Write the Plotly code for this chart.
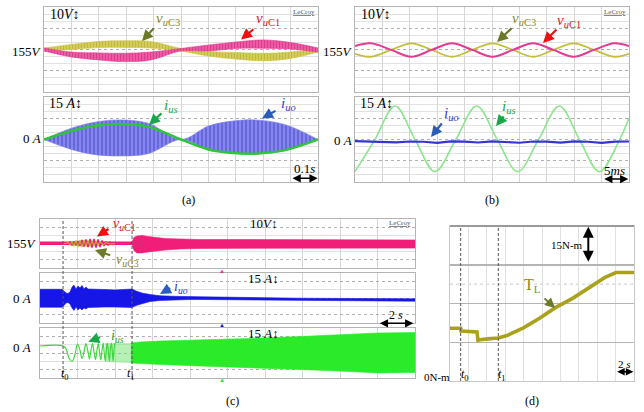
import plotly.graph_objects as go

W, H = 644, 412
SERIF = "Liberation Serif, Times New Roman, serif"

# ---------------- data ----------------
# (a) 0.1 s/div
a_t = [0, 0.1, 0.2, 0.29, 0.39, 0.5, 0.6, 0.7, 0.8, 0.9, 1.0]
a_vuc3_hi = [155.7, 157.4, 158.8, 159.1, 158.8, 155.5, 154.1, 153.6, 153.2, 153.8, 155.2]
a_vuc3_lo = [154.3, 155.0, 155.9, 156.0, 155.7, 154.3, 151.9, 150.5, 149.7, 150.8, 153.8]
a_vuc1_hi = [155.7, 153.8, 153.4, 153.2, 153.8, 155.5, 157.1, 158.5, 159.5, 158.3, 155.7]
a_vuc1_lo = [154.3, 151.5, 150.1, 149.3, 150.1, 154.3, 154.3, 155.5, 155.6, 155.2, 153.8]
a_ti = [0, 0.1, 0.18, 0.27, 0.38, 0.5, 0.6, 0.68, 0.77, 0.88, 1.0]
a_iuo_hi = [0, 8, 12, 13.8, 11.5, 0, 9.5, 12.8, 13.8, 10.5, 0]
a_iuo_lo = [0, -7, -10.5, -11.6, -10, 0, -7, -9.5, -10.2, -7.8, 0]
a_ius = [0, 6, 9.5, 10.9, 9, 0, -7, -9.3, -10, -7.5, 0]

# (b) 5 ms/div
b_tv = [0, 2.9, 6.6, 10.3, 14.0, 17.7, 21.4, 25.1, 28.8, 32.5, 36.2, 39.9, 43.6, 47.3, 50]
b_vuc1 = [156.6, 157.9, 154.8, 151.6, 154.8, 157.9, 154.8, 151.6, 154.8, 157.9, 154.8, 151.6, 154.8, 157.9, 156.6]
b_vuc3 = [153.0, 151.6, 154.8, 157.9, 154.8, 151.6, 154.8, 157.9, 154.8, 151.6, 154.8, 157.9, 154.8, 151.6, 153.0]
b_ti = [0, 3.65, 7.3, 10.95, 14.6, 18.4, 22.2, 25.95, 29.7, 33.5, 37.3, 40.95, 44.6, 48.3, 50]
b_ius = [-22.7, 0, 23.6, 0, -22.7, 0, 23.6, 0, -22.7, 0, 23.6, 0, -22.7, 0, 15.2]
b_tu = [0, 2.5, 5, 7.5, 10, 12.5, 15, 17.5, 20, 22.5, 25, 27.5, 30, 32.5, 35, 37.5, 40, 42.5, 45, 47.5, 50]
b_iuo = [-1.2, -1.5, -1.3, -2.0, -1.4, -1.6, -2.4, -1.3, -1.5, -2.1, -1.3, -1.6, -2.3, -1.4, -1.5, -2.2, -1.3, -1.6, -2.4, -1.5, -1.4]

# (c) 2 s/div
c_t0, c_t1 = 1.23, 4.91
c_pre_t = [0, 4.91]
c_pre_v = [155.3, 155.3]
c_zz_t = [1.23, 1.39, 1.49, 1.60, 1.71, 1.81, 1.92, 2.03, 2.13, 2.24, 2.35, 2.45, 2.56, 2.67, 2.77,
          2.88, 2.99, 3.09, 3.20, 3.31, 3.41, 3.52, 3.63, 3.73, 3.89, 4.05, 4.27, 4.53, 4.91]
c_vuc1_zz = [155, 155.6, 153.8, 156.8, 153.2, 157.4, 152.6, 158.1, 151.9, 159.3, 151.3, 159.9, 150.7, 160.5, 150.1,
             160.5, 150.1, 159.9, 150.7, 158.7, 151.9, 157.4, 152.6, 156.8, 153.8, 156.2, 154.4, 155.6, 155]
c_zz3_t = [1.23, 1.39, 1.49, 1.60, 1.71, 1.81, 1.92, 2.03, 2.13, 2.24, 2.35, 2.45, 2.56, 2.67, 2.77,
           2.88, 2.99, 3.09, 3.20, 3.36, 3.52, 3.73, 4.0]
c_vuc3_zz = [155, 155, 156.2, 153.2, 157.4, 151.9, 158.7, 150.7, 159.3, 150.7, 159.3, 151.3, 158.7, 151.3, 158.7,
             151.9, 158.1, 152.6, 157.4, 153.2, 156.2, 154.4, 155]
c_band_t = [4.91, 5.01, 5.17, 5.44, 5.76, 6.13, 6.67, 7.47, 8.53, 11.2, 13.87, 16.53, 20]
c_vuc1_hi = [156.5, 162.3, 164.2, 164.8, 163.6, 162.3, 161.1, 160.5, 159.9, 159.9, 159.7, 159.4, 159.3]
c_vuc1_lo = [153.5, 146.4, 143.4, 143.4, 144.6, 145.8, 147.0, 148.3, 148.9, 149.1, 149.1, 149.2, 149.4]

c_iuo_t = [0, 1.17, 1.28, 1.39, 1.49, 1.60, 1.71, 1.81, 1.92, 2.03, 2.13, 2.24, 2.35, 2.45, 2.56,
           2.93, 3.47, 4.00, 4.53, 4.91, 5.12, 5.44, 5.87, 6.40, 7.09, 8.00, 8.53, 13.87, 20]
c_iuo_hi = [15.7, 15.7, 12.6, 9.0, 8.1, 10.8, 19.8, 23.4, 16.2, 21.6, 18.0, 22.5, 16.2, 19.8, 16.2,
            15.3, 15.3, 14.4, 15.3, 16.2, 12.6, 9.0, 6.3, 4.1, 3.1, 2.3, 2.2, -0.4, -1.4]
c_iuo_lo = [-16.7, -16.7, -13.5, -9.0, -8.1, -10.8, -18.0, -22.5, -16.2, -21.6, -18.0, -21.6, -18.0, -19.8, -17.1,
            -16.2, -16.2, -16.2, -16.2, -17.1, -13.5, -9.9, -6.3, -4.5, -3.2, -2.7, -2.7, -4.7, -5.8]

c_ius_t = [0, 1.23, 1.39, 1.55, 1.71, 1.87, 2.00, 2.13, 2.24, 2.35, 2.45, 2.56, 2.64, 2.72, 2.80, 2.88, 2.96, 3.04,
           3.11, 3.18, 3.24, 3.31, 3.37, 3.42, 3.48, 3.54, 3.59, 3.65, 3.70, 3.75, 3.81, 3.86, 3.90, 3.95, 4.00]
c_ius_zz = [0, 0, -5.4, -21.6, -27.9, -14.4, 3.6, -7.2, -22.5, -10.8, 4.5, -10.8, -23.4, -7.2, 4.5, -10.8, -24.3, -7.2,
            4.5, -12.6, -25.2, -7.2, 5.4, -10.8, -27.0, -7.2, 5.4, -10.8, -27.0, -7.2, 5.4, -12.6, -27.0, -5.4, 5.4]
c_dense_t = [3.47, 4.91]
c_dense_hi = [5.4, 5.4]
c_dense_lo = [-28.8, -30.6]
c_ius_band_t = [4.85, 5.33, 6.40, 8.53, 11.2, 13.87, 16.53, 18.03, 20]
c_ius_hi = [5.4, 7.2, 9.0, 10.8, 13.5, 17.1, 20.7, 23.4, 24.3]
c_ius_lo = [-30.6, -31.5, -33.3, -36.0, -38.7, -42.3, -45.9, -48.6, -47.7]
c_trig = 9.69

# (d) load torque, 2 s/div, 15 N-m/div
d_t0, d_t1 = 1.16, 5.25
d_t = [0, 1.16, 1.2, 2.93, 3.04, 3.26, 4.13, 5.22, 6.2, 7.93, 9.78, 11.41, 13.37, 15.22, 16.85, 18.04, 20]
d_TL = [20.4, 20.4, 19.3, 19.0, 15.8, 16.0, 16.3, 16.65, 17.6, 20.5, 24.4, 28.3, 32.1, 36.4, 40.1, 42.0, 42.0]

# ---------------- colours ----------------
PINK, OLIVE, BLUE, GREEN = "#e8358f", "#c9c23c", "#1616e6", "#2aea2a"

fig = go.Figure()


def band(xs, lo, hi, color, n, shape="spline", pattern=None, lw=0.6):
    xa, ya = ("x", "y") if n == 1 else (f"x{n}", f"y{n}")
    fig.add_trace(go.Scatter(x=xs, y=lo, mode="lines", line=dict(width=lw, color=color, shape=shape),
                             xaxis=xa, yaxis=ya, hoverinfo="skip"))
    kw = dict(fillpattern=pattern) if pattern else {}
    fig.add_trace(go.Scatter(x=xs, y=hi, mode="lines", line=dict(width=lw, color=color, shape=shape),
                             fill="tonexty", fillcolor=color, xaxis=xa, yaxis=ya, hoverinfo="skip", **kw))


def line(xs, ys, color, n, width=2, shape="linear"):
    xa, ya = ("x", "y") if n == 1 else (f"x{n}", f"y{n}")
    fig.add_trace(go.Scatter(x=xs, y=ys, mode="lines", line=dict(width=width, color=color, shape=shape),
                             xaxis=xa, yaxis=ya, hoverinfo="skip"))


# (a)
band(a_t, a_vuc3_lo, a_vuc3_hi, OLIVE, 1,
     pattern=dict(shape="|", fgcolor="#a9a224", bgcolor="#d6cf5c", size=3, solidity=0.4))
band(a_t, a_vuc1_lo, a_vuc1_hi, PINK, 1,
     pattern=dict(shape="|", fgcolor="#c71f72", bgcolor="#ef5ca6", size=3, solidity=0.4))
band(a_ti, a_iuo_lo, a_iuo_hi, "#7b7cf0", 2,
     pattern=dict(shape="|", fgcolor="#2e2ea6", bgcolor="#8586f2", size=4, solidity=0.35))
line(a_ti, a_ius, "#2fc43a", 2, width=2.5, shape="spline")
# (b)
line(b_tv, b_vuc3, "#c4bd3e", 3, width=1.8, shape="spline")
line(b_tv, b_vuc1, "#e33a93", 3, width=2.0, shape="spline")
line(b_ti, b_ius, "#8fe58f", 4, width=1.6, shape="spline")
line(b_tu, b_iuo, "#3434d2", 4, width=2.2)
# (c) top
line(c_pre_t, c_pre_v, "#f01e78", 5, width=3.5)
line(c_zz_t, c_vuc1_zz, "#f01e78", 5, width=1.5)
line(c_zz3_t, c_vuc3_zz, "#b9b230", 5, width=1.1)
band(c_band_t, c_vuc1_lo, c_vuc1_hi, "#f01e78", 5, shape="linear")
# (c) middle
band(c_iuo_t, c_iuo_lo, c_iuo_hi, BLUE, 6, shape="linear")
# (c) bottom
band(c_dense_t, c_dense_lo, c_dense_hi, "rgba(120,230,120,0.55)", 7, shape="linear", lw=0)
line(c_ius_t, c_ius_zz, "#3ed83e", 7, width=1.2, shape="spline")
band(c_ius_band_t, c_ius_lo, c_ius_hi, GREEN, 7, shape="linear")
# (d)
line(d_t, d_TL, "#aaa21c", 8, width=3.6)


# ---------------- axes ----------------
def dom(x0, x1, y0, y1):
    return [x0 / W, x1 / W], [1 - y1 / H, 1 - y0 / H]


base = dict(zeroline=False, showticklabels=False, ticks="", showline=True, linecolor="#b4b4b4",
            linewidth=1, mirror=True, fixedrange=True)

panels = [
    # n, px box, xrange, xdtick, yrange, y major tick0/dtick (dotted), minor dtick
    (1, (44, 318, 7, 92), [0, 1.0], 0.1, [135, 175], 135, 10, 10 / 3),
    (2, (44, 318, 97, 182), [0, 1.0], 0.1, [-30, 30], -30, 15, 5),
    (3, (355, 629, 7, 92), [0, 50], 5, [135, 175], 135, 10, 10 / 3),
    (4, (355, 629, 97, 182), [0, 50], 5, [-30, 30], -30, 15, 5),
    (5, (40, 415, 219, 268), [0, 20], 2, [125, 185], 135, 20, 10),
    (6, (40, 415, 273, 323), [0, 20], 2, [-45, 45], -30, 30, 15),
    (7, (40, 415, 328, 378), [0, 20], 2, [-57.6, 32.4], -42.6, 30, 15),
]
lay = {}
for n, (x0, x1, y0, y1), xr, xdt, yr, yt0, ydt, ymin in panels:
    xd, yd = dom(x0, x1, y0, y1)
    sx = "" if n == 1 else str(n)
    lay[f"xaxis{sx}"] = dict(base, domain=xd, range=xr, dtick=xdt, tick0=0, showgrid=True,
                             gridcolor="#d6d6d6", gridwidth=1, anchor=f"y{sx}")
    lay[f"yaxis{sx}"] = dict(base, domain=yd, range=yr, tick0=yt0, dtick=ydt, showgrid=True,
                             gridcolor="#b0b0b0", griddash="dot", gridwidth=1, anchor=f"x{sx}",
                             minor=dict(showgrid=True, tick0=yr[0], dtick=ymin, gridcolor="#e2e2e2",
                                        griddash="solid", gridwidth=1))
xd, yd = dom(450, 634, 226, 381)
lay["xaxis8"] = dict(base, domain=xd, range=[0, 20], dtick=2, tick0=0, showgrid=True,
                     gridcolor="#e0e0e0", linecolor="#c8c8c8", anchor="y8")
lay["yaxis8"] = dict(base, domain=yd, range=[0, 60], dtick=15, tick0=0, showgrid=True,
                     gridcolor="#b4b4b4", gridwidth=1.5, linecolor="#c8c8c8", anchor="x8")


# ---------------- annotations ----------------
def txt(s, px, py, size=13, color="black", xanchor="center", yanchor="middle"):
    return dict(text=s, x=px / W, y=1 - py / H, xref="paper", yref="paper", showarrow=False,
                font=dict(family=SERIF, size=size, color=color), xanchor=xanchor, yanchor=yanchor)


def arrow(tx, ty, hx, hy, color, width=2.2, size=1.0, head=2, both=False):
    d = dict(text="", x=hx / W, y=1 - hy / H, xref="paper", yref="paper", ax=tx - hx, ay=ty - hy,
             axref="pixel", ayref="pixel", showarrow=True, arrowhead=head, arrowsize=size,
             arrowwidth=width, arrowcolor=color)
    if both:
        d.update(arrowside="end+start", startarrowhead=head, startarrowsize=size)
    return d


C3 = "<i>v</i><sub><i>u</i>C3</sub>"
C1 = "<i>v</i><sub><i>u</i>C1</sub>"
IUS = "<i>i</i><sub><i>us</i></sub>"
IUO = "<i>i</i><sub><i>uo</i></sub>"
TV = "10<i>V</i><b>↕</b>"
TA = "15 <i>A</i><b>↕</b>"
OLV_T, RED_T, GRN_T, BLU_T = "#8e8a1e", "#e0161a", "#1fa63c", "#3a3ccc"
OLV_A, RED_A, GRN_A, BLU_A = "#6b7a28", "#ee1111", "#18a84a", "#2a5db8"

ann = [
    # (a)
    txt(TV, 48, 15, 14, xanchor="left"), txt("155<i>V</i>", 44, 52, 13, xanchor="right"),
    txt("<u>LeCroy</u>", 317, 11.5, 7, "#555", xanchor="right"),
    txt(TA, 47, 103, 14, xanchor="left"), txt("0 <i>A</i>", 43, 139, 13, xanchor="right"),
    txt("0.1<i>s</i>", 304, 169, 13),
    txt(C3, 168, 19, 15, OLV_T), txt(C1, 268, 19, 15, RED_T),
    txt(IUS, 171, 106, 15, GRN_T), txt(IUO, 288, 104, 15, BLU_T),
    arrow(155, 27, 142, 41, OLV_A), arrow(255, 28, 241, 39.5, RED_A),
    arrow(163, 112, 149, 125, GRN_A), arrow(277, 110, 262, 118.5, BLU_A),
    arrow(291, 178.3, 317.7, 178.3, "black", width=1.5, size=1.1, both=True),
    txt("(a)", 188, 200, 12),
    # (b)
    txt(TV, 359, 15, 14, xanchor="left"), txt("155<i>V</i>", 355, 52, 13, xanchor="right"),
    txt("<u>LeCroy</u>", 628, 11.5, 7, "#555", xanchor="right"),
    txt(TA, 358, 103, 14, xanchor="left"), txt("0 <i>A</i>", 354, 140, 13, xanchor="right"),
    txt("5<i>ms</i>", 614, 170, 13),
    txt(C3, 524, 19, 15, OLV_T), txt(C1, 569, 21, 15, RED_T),
    txt(IUO, 451, 114, 15, BLU_T), txt(IUS, 509, 107, 15, GRN_T),
    arrow(513, 27, 497, 42, OLV_A), arrow(558, 28, 543, 43, RED_A),
    arrow(443, 122, 431, 137, BLU_A), arrow(505, 115, 496, 126, GRN_A),
    arrow(602.7, 179, 628.3, 179, "black", width=1.5, size=1.1, both=True),
    txt("(b)", 492, 200, 12),
    # (c)
    txt(TV, 263, 223, 13), txt(TA, 263, 278, 13), txt(TA, 263, 333, 13),
    txt("<u>LeCroy</u>", 413, 223, 7, "#555", xanchor="right"),
    txt("155<i>V</i>", 39, 244, 13, xanchor="right"),
    txt("0 <i>A</i>", 33, 298, 13, xanchor="right"), txt("0 <i>A</i>", 33, 347, 13, xanchor="right"),
    txt("2 <i>s</i>", 396, 315, 12),
    arrow(378.3, 323.3, 413.3, 323.3, "black", width=1.5, size=1.1, both=True),
    txt("<i>t</i><sub>0</sub>", 65, 374, 12), txt("<i>t</i><sub>1</sub>", 131, 374, 12),
    txt(C1, 124, 224, 14, RED_T), txt(C3, 127, 260, 14, OLV_T),
    txt(IUO, 181, 287, 14, BLU_T), txt(IUS, 117, 336, 14, GRN_T),
    arrow(110, 228, 97, 236.5, RED_A), arrow(111.7, 255.7, 95, 250, OLV_A),
    arrow(171.7, 287.3, 160, 294, BLU_A), arrow(101.7, 336.7, 88.3, 341.7, GRN_A),
    txt("▲", 221.7, 270.7, 6, PINK), txt("▲", 221.7, 325, 6, BLUE), txt("▲", 221.7, 379.5, 6, GREEN),
    txt("(c)", 232, 401, 12),
    # (d)
    txt("15N-m", 585, 245, 11, xanchor="right"), txt("0N-m", 452, 377, 11, xanchor="right"),
    txt("<i>t</i><sub>0</sub>", 465, 375, 12), txt("<i>t</i><sub>1</sub>", 502, 375, 12),
    txt("2 <i>s</i>", 624, 364, 11),
    arrow(615.7, 371.7, 633.3, 371.7, "black", width=1.5, size=1.0, both=True),
    arrow(588.3, 263.3, 588.3, 226.7, "black", width=2, size=1.1, both=True),
    txt("T<sub>L</sub>", 532, 285, 16, OLV_T),
    arrow(543, 297, 555, 308, OLV_A, width=2),
    txt("(d)", 532, 401, 12),
]

shapes = []
for t in (c_t0, c_t1):
    shapes.append(dict(type="line", xref="x5", yref="paper", x0=t, x1=t, y0=1 - 379 / H, y1=1 - 219 / H,
                       line=dict(color="#555", width=1, dash="3px,2px")))
for t in (d_t0, d_t1):
    shapes.append(dict(type="line", xref="x8", yref="y8 domain", x0=t, x1=t, y0=0, y1=1,
                       line=dict(color="#555", width=1, dash="3px,2px")))
shapes.append(dict(type="line", xref="x8 domain", yref="y8", x0=0, x1=1, y0=37.5, y1=37.5,
                   line=dict(color="#c8c8c8", width=1, dash="dot"), layer="below"))
shapes.append(dict(type="line", xref="x8 domain", yref="y8 domain", x0=0, x1=1, y0=1, y1=1,
                   line=dict(color="#9a9a9a", width=2)))

fig.update_layout(width=W, height=H, margin=dict(l=0, r=0, t=0, b=0), paper_bgcolor="white",
                  plot_bgcolor="white", showlegend=False, annotations=ann, shapes=shapes, **lay)
fig.write_html("out.html", config={"displayModeBar": False, "staticPlot": True},
               post_script="document.body.style.margin='0';document.body.style.overflow='hidden';")
